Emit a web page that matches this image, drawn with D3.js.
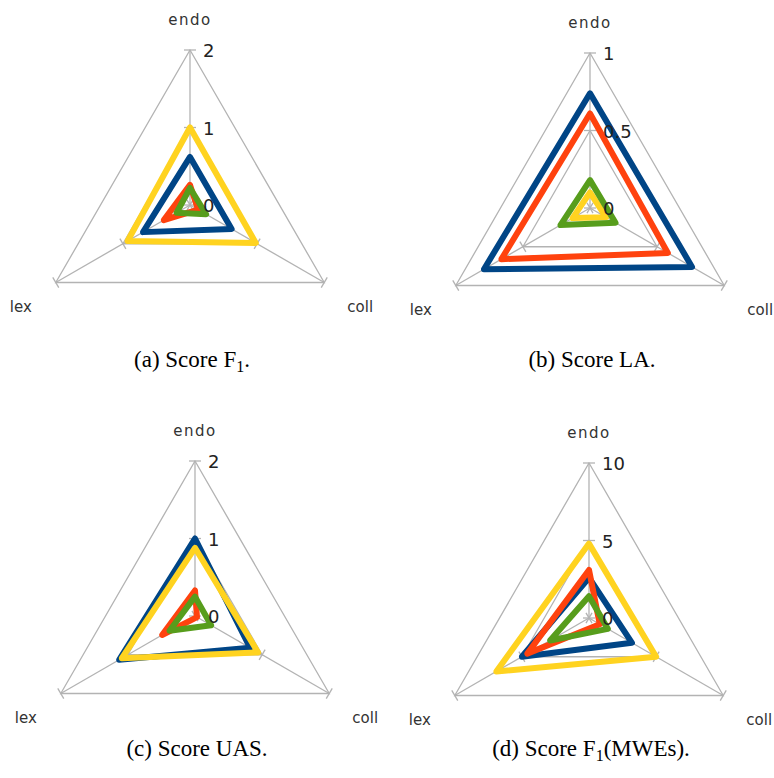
<!DOCTYPE html>
<html>
<head>
<meta charset="utf-8">
<script src="https://cdn.jsdelivr.net/npm/d3@7"></script>
<style>
  body { margin: 0; background: #fff; }
  svg { display: block; }
</style>
</head>
<body>
<div id="chart"></div>
<script>
// axes of every radar, clockwise from the top
var axes = ["endo", "coll", "lex"];

// series colours (blue, orange, yellow, green) in drawing order
var seriesColors = ["#004586", "#ff420e", "#ffd320", "#579d1c"];

// values per series, in the order of `axes`
var f1Values = [
    [0.62, 0.62, 0.70],
    [0.26, 0.12, 0.39],
    [1.00, 0.98, 0.93],
    [0.22, 0.24, 0.20]
];
var laValues = [
    [0.74, 0.76, 0.79],
    [0.61, 0.58, 0.66],
    [0.10, 0.12, 0.13],
    [0.18, 0.19, 0.22]
];
var uasValues = [
    [1.00, 0.82, 1.13],
    [0.33, 0.03, 0.49],
    [0.88, 0.94, 1.09],
    [0.25, 0.24, 0.38]
];
var mweValues = [
    [2.6, 3.2, 5.0],
    [3.1, 0.8, 4.6],
    [4.8, 5.0, 6.9],
    [1.4, 1.4, 2.9]
];

var f1Ticks = [0, 1, 2];
var laTicks = [0, 0.5, 1];
var uasTicks = [0, 1, 2];
var mweTicks = [0, 5, 10];

var width = 774, height = 778;
var svg = d3.select("#chart").append("svg")
    .attr("width", width)
    .attr("height", height);

var R = 155;
var gridColor = "#b3b3b3";

function drawRadar(cx, cy, capY, ticks, values, label, sub, rest) {
    var g = svg.append("g").attr("transform", "translate(" + cx + "," + cy + ")");
    var r = d3.scaleLinear().domain([0, ticks[ticks.length - 1]]).range([0, R]);
    var angle = d3.scalePoint().domain(axes).range([0, 2 * Math.PI * 2 / 3]);

    function pt(a, v) {
        var t = angle(a);
        return [Math.sin(t) * r(v), -Math.cos(t) * r(v)];
    }

    // grid triangles
    var gridLine = d3.lineRadial()
        .angle(function(d) { return angle(d); })
        .curve(d3.curveLinearClosed);
    ticks.slice(1).forEach(function(t) {
        g.append("path")
            .attr("d", gridLine.radius(r(t))(axes))
            .attr("fill", "none")
            .attr("stroke", gridColor)
            .attr("stroke-width", 1.3);
    });

    // axes with small perpendicular ticks
    axes.forEach(function(a) {
        var end = pt(a, ticks[ticks.length - 1]);
        g.append("line")
            .attr("x1", 0).attr("y1", 0)
            .attr("x2", end[0]).attr("y2", end[1])
            .attr("stroke", gridColor)
            .attr("stroke-width", 1.3);
        var t = angle(a);
        var px = Math.cos(t) * 6, py = Math.sin(t) * 6;
        ticks.forEach(function(v) {
            var p = pt(a, v);
            g.append("line")
                .attr("x1", p[0] - px).attr("y1", p[1] - py)
                .attr("x2", p[0] + px).attr("y2", p[1] + py)
                .attr("stroke", gridColor)
                .attr("stroke-width", 1.3);
        });
    });

    // series
    var line = d3.lineRadial()
        .angle(function(d, i) { return angle(axes[i]); })
        .radius(function(d) { return r(d); })
        .curve(d3.curveLinearClosed);
    values.forEach(function(vals, i) {
        g.append("path")
            .attr("d", line(vals))
            .attr("fill", "none")
            .attr("stroke", seriesColors[i])
            .attr("stroke-width", 6)
            .attr("stroke-linejoin", "round");
    });

    // tick labels
    ticks.forEach(function(v) {
        g.append("text")
            .attr("x", 13)
            .attr("y", -r(v) + 7)
            .attr("font-family", "DejaVu Sans")
            .attr("font-size", 18)
            .attr("fill", "#222")
            .text(v);
    });

    // axis names
    var ends = axes.map(function(a) { return pt(a, ticks[ticks.length - 1]); });
    g.append("text")
        .attr("x", 0).attr("y", ends[0][1] - 25)
        .attr("text-anchor", "middle")
        .attr("font-family", "DejaVu Sans")
        .attr("font-size", 15)
        .attr("letter-spacing", 1.5)
        .attr("fill", "#333")
        .text(axes[0]);
    g.append("text")
        .attr("x", ends[1][0] + 36).attr("y", ends[1][1] + 29)
        .attr("text-anchor", "middle")
        .attr("font-family", "DejaVu Sans")
        .attr("font-size", 15)
        .attr("fill", "#333")
        .text(axes[1]);
    g.append("text")
        .attr("x", ends[2][0] - 35).attr("y", ends[2][1] + 29)
        .attr("text-anchor", "middle")
        .attr("font-family", "DejaVu Sans")
        .attr("font-size", 15)
        .attr("fill", "#333")
        .text(axes[2]);

    // caption
    var cap = svg.append("text")
        .attr("x", cx + 2).attr("y", capY)
        .attr("text-anchor", "middle")
        .attr("font-family", "Liberation Serif")
        .attr("font-size", 23)
        .attr("fill", "#000");
    cap.append("tspan").text(label);
    if (sub) {
        cap.append("tspan").attr("font-size", 16).attr("dy", 5).text(sub);
        cap.append("tspan").attr("dy", -5).text(rest);
    }
}

drawRadar(190, 205, 367, f1Ticks, f1Values, "(a) Score F", "1", ".");
drawRadar(590, 208, 367, laTicks, laValues, "(b) Score LA.", null, null);
drawRadar(195, 616, 756, uasTicks, uasValues, "(c) Score UAS.", null, null);
drawRadar(589, 618, 756, mweTicks, mweValues, "(d) Score F", "1", "(MWEs).");
</script>
</body>
</html>
